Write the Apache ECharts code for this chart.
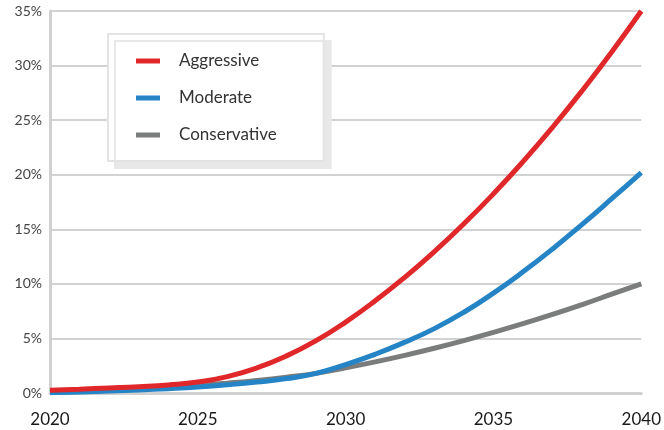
<!DOCTYPE html>
<html>
<head>
<meta charset="utf-8">
<script src="https://cdn.jsdelivr.net/npm/echarts@6/dist/echarts.min.js"></script>
<style>html,body{margin:0;padding:0;background:#fff;}#c{width:664px;height:430px;}</style>
</head>
<body>
<div id="c"></div>
<script>
const years = [2020,2021,2022,2023,2024,2025,2026,2027,2028,2029,2030,2031,2032,2033,2034,2035,2036,2037,2038,2039,2040];
const aggressive = [0.25,0.35,0.46,0.58,0.74,1.0,1.5,2.3,3.4,4.8,6.5,8.45,10.6,12.95,15.5,18.25,21.2,24.35,27.7,31.25,35.0];
const moderate = [0.03,0.1,0.18,0.28,0.4,0.55,0.75,1.0,1.32,1.8,2.6,3.55,4.65,5.9,7.4,9.15,11.1,13.2,15.45,17.8,20.2];
const conservative = [0.05,0.13,0.23,0.35,0.5,0.68,0.9,1.15,1.45,1.8,2.3,2.85,3.45,4.1,4.8,5.55,6.35,7.2,8.1,9.05,10.0];
const seriesNames = ['Aggressive','Moderate','Conservative'];
const colors = ['#e0282a','#2484c6','#7b7d7d'];
const yTicks = [0,5,10,15,20,25,30,35];

const pairs = arr => years.map((y,i)=>[y,arr[i]]);
const chart = echarts.init(document.getElementById('c'));
const font = 'Lato';
chart.setOption({
  animation:false,
  textStyle:{fontFamily:font},
  grid:{left:50,right:21,top:11,bottom:37,containLabel:false},
  legend:{
    orient:'vertical', left:108, top:34,
    padding:[17,47,16,28],
    backgroundColor:'#fff', borderColor:'#e3e3e3', borderWidth:2,
    shadowColor:'#e8e8e8', shadowOffsetX:7, shadowOffsetY:7, shadowBlur:0,
    itemWidth:24, itemHeight:5, itemGap:17,
    textStyle:{fontSize:17,color:'#333',padding:[0,0,0,14],lineHeight:20,fontFamily:font},
    data:seriesNames.map((n,i)=>({name:n,icon:'rect',itemStyle:{color:colors[i]}}))
  },
  xAxis:{
    type:'value', min:2020, max:2040, interval:5,
    axisLine:{show:true,lineStyle:{color:'#d0d0d0',width:3}},
    axisTick:{show:false},
    splitLine:{show:false},
    axisLabel:{fontSize:17,color:'#1a1a1a',margin:18,formatter:v=>String(v)}
  },
  yAxis:{
    type:'value', min:yTicks[0], max:yTicks[yTicks.length-1], interval:5,
    axisLine:{show:true,lineStyle:{color:'#d0d0d0',width:3}},
    axisTick:{show:false},
    splitLine:{show:true,lineStyle:{color:'#d2d2d2',width:2}},
    axisLabel:{fontSize:14,color:'#444',margin:8,formatter:'{value}%'}
  },
  series:[aggressive,moderate,conservative].map((arr,i)=>({
    name:seriesNames[i], type:'line', smooth:0.5, showSymbol:false, symbol:'none',
    data:pairs(arr), z:10-i,
    lineStyle:{color:colors[i],width:5}, itemStyle:{color:colors[i]}
  }))
});
</script>
</body>
</html>
